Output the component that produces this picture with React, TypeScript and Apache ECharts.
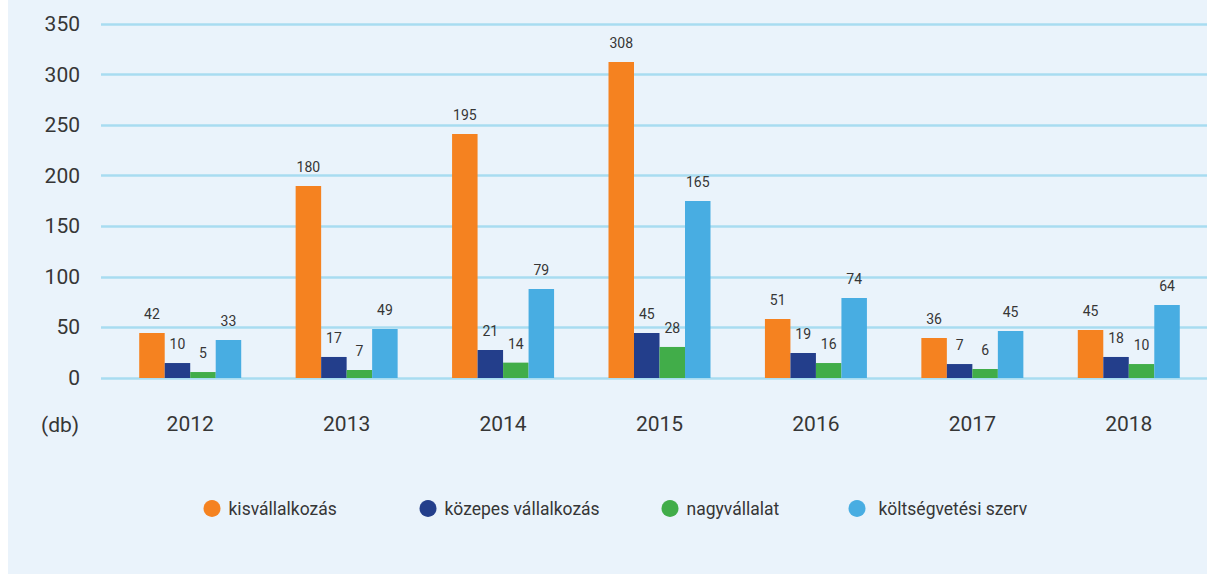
import React, { useEffect, useRef } from "react";
import * as echarts from "echarts";

const years = ["2012", "2013", "2014", "2015", "2016", "2017", "2018"];
const seriesNames = ["kisvállalkozás", "közepes vállalkozás", "nagyvállalat", "költségvetési szerv"];
const colors = ["#f58220", "#233e8b", "#41ad49", "#48ade2"];

// bar heights as drawn in the picture
const kisValues = [44.5, 189.8, 241.2, 312.4, 58.3, 39.5, 47.5];
const kozepesValues = [14.8, 20.8, 27.7, 44.5, 24.7, 13.8, 20.8];
const nagyValues = [5.9, 7.9, 15.2, 30.7, 14.8, 8.9, 13.8];
const koltsValues = [37.6, 48.4, 88, 175, 79.1, 46.5, 72.2];

// numbers printed above the bars
const kisLabels = [42, 180, 195, 308, 51, 36, 45];
const kozepesLabels = [10, 17, 21, 45, 19, 7, 18];
const nagyLabels = [5, 7, 14, 28, 16, 6, 10];
const koltsLabels = [33, 49, 79, 165, 74, 45, 64];

const yTicks = { min: 0, max: 350, interval: 50 };
const unitLabel = "(db)";

const allValues = [kisValues, kozepesValues, nagyValues, koltsValues];
const allLabels = [kisLabels, kozepesLabels, nagyLabels, koltsLabels];

const FONT = "Roboto, 'Noto Sans', sans-serif";
const TEXT = "#363636";

export default function App() {
  const ref = useRef<HTMLDivElement>(null);
  useEffect(() => {
    if (!ref.current) return;
    const chart = echarts.init(ref.current, undefined, { renderer: "svg" });
    const legendLefts = [195.5, 411.5, 653.5, 840.5];
    const legendPads = [3, 3, 3, 8];
    chart.setOption({
      animation: false,
      backgroundColor: "#eaf3fb",
      textStyle: { fontFamily: FONT },
      grid: [
        { left: 93, right: 0, top: 24, height: 354 },
        { left: 104, width: 1097, top: 24, height: 354 },
      ],
      xAxis: [
        { type: "value", gridIndex: 0, show: false, min: 0, max: 1 },
        {
          type: "category",
          gridIndex: 1,
          data: years,
          axisLine: { show: false },
          axisTick: { show: false },
          axisLabel: { color: TEXT, fontSize: 21, margin: 35, fontFamily: FONT },
        },
      ],
      yAxis: [
        {
          type: "value",
          gridIndex: 0,
          ...yTicks,
          axisLine: { show: false },
          axisTick: { show: false },
          axisLabel: { color: TEXT, fontSize: 21, margin: 21, fontFamily: FONT },
          splitLine: { show: true, lineStyle: { color: "#a8dcf1", width: 2.5 } },
        },
        {
          type: "value",
          gridIndex: 1,
          ...yTicks,
          show: false,
          splitLine: { show: false },
        },
      ],
      legend: seriesNames.map((name, i) => ({
        data: [name],
        left: legendLefts[i],
        top: 499.5,
        icon: "circle",
        itemWidth: 17,
        itemHeight: 17,
        padding: 0,
        textStyle: {
          color: TEXT,
          fontSize: 17.5,
          fontFamily: FONT,
          padding: [0, 0, 0, legendPads[i]],
        },
      })),
      graphic: [
        {
          type: "text",
          left: 33,
          top: 414,
          style: { text: unitLabel, fill: TEXT, fontSize: 21, fontFamily: FONT },
        },
      ],
      series: seriesNames.map((name, i) => ({
        name,
        type: "bar",
        xAxisIndex: 1,
        yAxisIndex: 1,
        barWidth: 25.5,
        barGap: "0%",
        itemStyle: { color: colors[i] },
        data: allValues[i],
        label: {
          show: true,
          position: "top",
          distance: 12,
          color: TEXT,
          fontSize: 14,
          fontFamily: FONT,
          formatter: (p: any) => String(allLabels[i][p.dataIndex]),
        },
      })),
    });
    return () => chart.dispose();
  }, []);
  return (
    <div
      ref={ref}
      style={{ position: "absolute", left: 8, top: 0, width: 1199, height: 574 }}
    />
  );
}
